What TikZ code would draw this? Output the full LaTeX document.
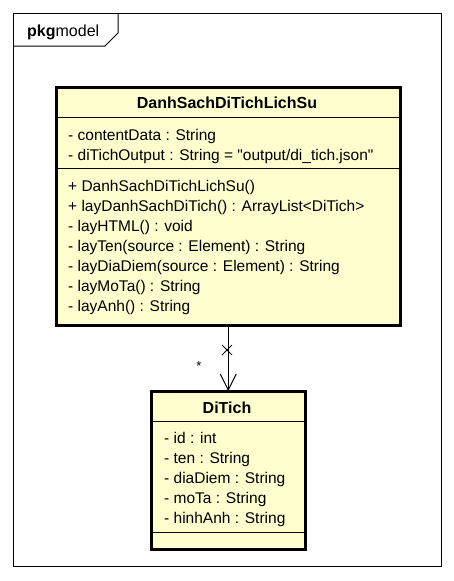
\documentclass[tikz,border=0pt]{standalone}
\usepackage{fontspec}
\setmainfont{Liberation Sans}
\definecolor{umlfill}{HTML}{FEFECE}
\begin{document}
\begin{tikzpicture}[x=1pt,y=-1pt,
  cls/.style={draw=black,line width=2.5pt,fill=umlfill,inner sep=0pt,anchor=north west},
  txt/.style={anchor=base west,inner sep=0pt,font=\fontsize{15.5}{18}\selectfont},
  ttl/.style={anchor=base,inner sep=0pt,font=\fontsize{16}{18}\selectfont\bfseries},
  sep/.style={line width=1pt},
  thin/.style={line width=1pt},
]
\fill[white] (0,0) rectangle (454,581);
\useasboundingbox (0,0) rectangle (454,581);
% package frame
\node[draw=black,line width=1pt,inner sep=0pt,anchor=north west,minimum width=428pt,minimum height=553pt] (frame) at (13,13) {};
\draw[thin] (118,13) -- (118,33) -- (105,46) -- (13,46);
\node[anchor=base west,inner sep=0pt,font=\fontsize{16}{18}\selectfont] (pkg) at (27,36) {\textbf{pkg}model};
% big class
\node[cls,minimum width=344pt,minimum height=238pt] (big) at (55,86) {};
\draw[sep] (big.west |- 0,117) -- (big.east |- 0,117);
\draw[sep] (big.west |- 0,168) -- (big.east |- 0,168);
\node[ttl] (bigt) at (227,108) {DanhSachDiTichLichSu};
\node[txt] (a1) at (68,140) {- contentData : String};
\node[txt] (a2) at (68,160) {- diTichOutput : String = \textquotedbl output/di\_tich.json\textquotedbl};
\node[txt] (m1) at (68,191) {+ DanhSachDiTichLichSu()};
\node[txt] (m2) at (68,211) {+ layDanhSachDiTich() : ArrayList<DiTich>};
\node[txt] (m3) at (68,231) {- layHTML() : void};
\node[txt] (m4) at (68,251) {- layTen(source : Element) : String};
\node[txt] (m5) at (68,271) {- layDiaDiem(source : Element) : String};
\node[txt] (m6) at (68,291) {- layMoTa() : String};
\node[txt] (m7) at (68,311) {- layAnh() : String};
% DiTich class
\node[cls,minimum width=154pt,minimum height=158pt] (dt) at (150,390) {};
\draw[sep] (dt.west |- 0,421) -- (dt.east |- 0,421);
\draw[sep] (dt.west |- 0,532) -- (dt.east |- 0,532);
\node[ttl] (dtt) at (227,413) {DiTich};
\node[txt] (d1) at (164,443) {- id : int};
\node[txt] (d2) at (164,463) {- ten : String};
\node[txt] (d3) at (164,483) {- diaDiem : String};
\node[txt] (d4) at (164,503) {- moTa : String};
\node[txt] (d5) at (164,523) {- hinhAnh : String};
% connector
\draw[thin] (big.south) -- (dt.north);
\draw[thin] (dt.north) ++(-8,-16) -- (dt.north) -- ++(8,-16);
\coordinate (xm) at (227,350);
\draw[thin] (xm) ++(-5,-5) -- ++(10,10);
\draw[thin] (xm) ++(-5,5) -- ++(10,-10);
\node[anchor=base,inner sep=0pt,font=\fontsize{13}{15}\selectfont] (mult) at (199,370) {*};
\end{tikzpicture}
\end{document}
